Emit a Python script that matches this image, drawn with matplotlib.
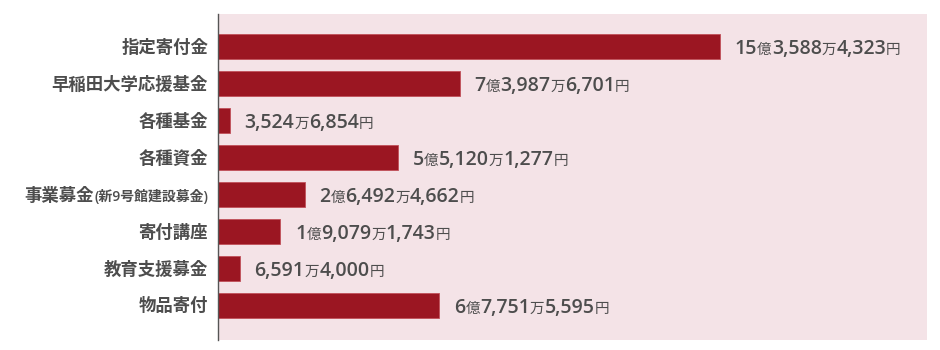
import matplotlib
matplotlib.use("Agg")
import matplotlib.pyplot as plt
import matplotlib.transforms as mtransforms

plt.rcParams["font.family"] = ["Open Sans", "Noto Sans CJK JP", "DejaVu Sans"]

# data (yen)
categories = [
    "指定寄付金",
    "早稲田大学応援基金",
    "各種基金",
    "各種資金",
    "事業募金",
    "寄付講座",
    "教育支援募金",
    "物品寄付",
]
category_notes = ["", "", "", "", "(新9号館建設募金)", "", "", ""]
amounts = [
    1535884323,
    739876701,
    35246854,
    551201277,
    264924662,
    190791743,
    65914000,
    677515595,
]

bar_color = "#9b1622"
bg_color = "#f4e3e7"
text_color = "#4d4d4d"
num_size = 14
unit_size = 10.5


def yen_pieces(v):
    # split into 億 / 万 / 円 parts, units drawn smaller and lighter
    oku = v // 100000000
    man = (v // 10000) % 10000
    en = v % 10000
    out = []
    if oku:
        out += [(str(oku), num_size, "semibold"), ("億", unit_size, "normal")]
    if man:
        out += [(f"{man:,}", num_size, "semibold"), ("万", unit_size, "normal")]
    out += [(f"{en:,}", num_size, "semibold"), ("円", unit_size, "normal")]
    return out


def draw_pieces(ax, x, y, pieces, dx_px, right=False, dy=-5.0):
    fig = ax.figure
    renderer = fig.canvas.get_renderer()
    texts, widths = [], []
    for s, fs, fw in pieces:
        t = ax.text(x, y, s, fontsize=fs, color=text_color, va="baseline",
                    ha="left", fontweight=fw)
        texts.append(t)
        widths.append(t.get_window_extent(renderer).width)
    start = dx_px - sum(widths) if right else dx_px
    pos = start
    for t, w in zip(texts, widths):
        t.set_transform(mtransforms.offset_copy(ax.transData, fig=fig,
                                                x=pos * 72 / fig.dpi, y=dy, units="points"))
        pos += w


fig = plt.figure(figsize=(9.4, 3.5), dpi=100)
ax = fig.add_axes([218 / 940, 10 / 350, (927 - 218) / 940, (336 - 10) / 350])
ax.set_facecolor(bg_color)

ypos = list(range(len(categories)))
ax.barh(ypos, amounts, height=0.68, color=bar_color, edgecolor="#c0505a", linewidth=0.6)

ax.set_xlim(0, 2170e6)
ax.set_ylim(len(categories) - 1 + 0.93, -0.89)
ax.set_xticks([])
ax.set_yticks([])
for side in ["top", "right", "bottom"]:
    ax.spines[side].set_visible(False)
ax.spines["left"].set_color("#555555")
ax.spines["left"].set_linewidth(1.0)

fig.canvas.draw()

for y, v in zip(ypos, amounts):
    draw_pieces(ax, v, y, yen_pieces(v), 15)

for y, name, note in zip(ypos, categories, category_notes):
    pieces = [(name, 12.5, "semibold")]
    if note:
        pieces.append((note, 10, "semibold"))
    draw_pieces(ax, 0, y, pieces, -10, right=True, dy=-4.2)

fig.savefig("out.png", dpi=100)
